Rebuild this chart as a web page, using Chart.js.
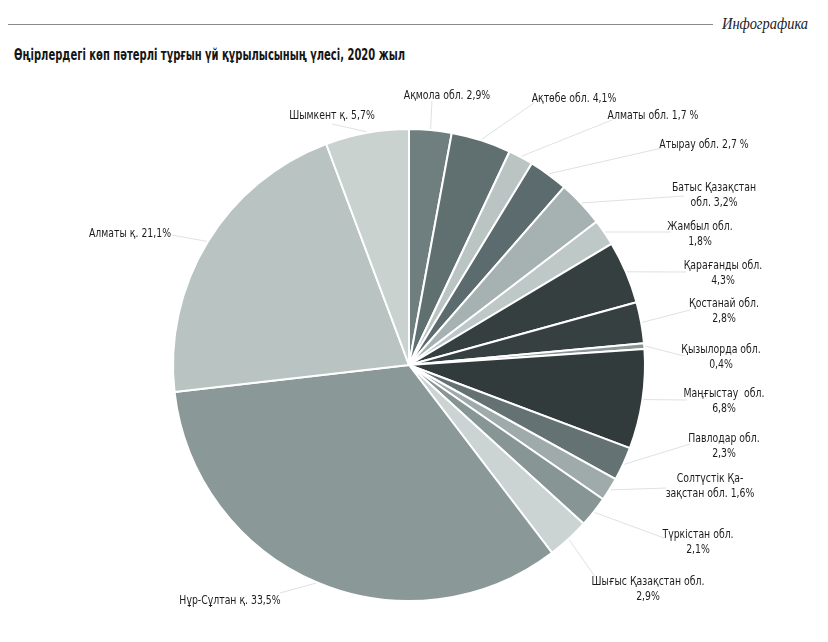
<!DOCTYPE html>
<html>
<head>
<meta charset="utf-8">
<script src="https://cdn.jsdelivr.net/npm/chart.js@4/dist/chart.umd.min.js"></script>
<style>
  html, body { margin:0; padding:0; background:#fff; }
  #wrap { position:relative; width:828px; height:642px; overflow:hidden; }
  #rule { position:absolute; left:8px; top:24px; width:705px; height:0; border-top:1px solid #8a8a8a; }
  #head { position:absolute; left:722px; top:15px; font-family:"Liberation Serif","DejaVu Serif Condensed",serif; font-style:italic; font-size:16px; color:#222; white-space:nowrap; transform-origin:0 0; }
  #title { position:absolute; left:14px; top:45px; font-family:"DejaVu Sans Condensed","Liberation Sans","Roboto",sans-serif; font-weight:bold; font-size:16.5px; color:#151515; white-space:nowrap; transform-origin:0 0; }
  canvas { position:absolute; left:0; top:0; }
</style>
</head>
<body>
<div id="wrap">
  <div id="rule"></div>
  <div id="head">Инфографика</div>
  <div id="title">Өңірлердегі көп пәтерлі тұрғын үй құрылысының үлесі, 2020 жыл</div>
  <canvas id="c" width="828" height="642"></canvas>
</div>
<script>
// ---- data ----
const categories = [
  "Ақмола обл.", "Ақтөбе обл.", "Алматы обл.", "Атырау обл.", "Батыс Қазақстан обл.",
  "Жамбыл обл.", "Қарағанды обл.", "Қостанай обл.", "Қызылорда обл.", "Маңғыстау обл.",
  "Павлодар обл.", "Солтүстік Қазақстан обл.", "Түркістан обл.", "Шығыс Қазақстан обл.",
  "Нұр-Сұлтан қ.", "Алматы қ.", "Шымкент қ."
];
const shares = [2.9, 4.1, 1.7, 2.7, 3.2, 1.8, 4.3, 2.8, 0.4, 6.8, 2.3, 1.6, 2.1, 2.9, 33.5, 21.1, 5.7];
// label text lines as printed in the source
const labelLines = [
  ["Ақмола обл. 2,9%"],
  ["Ақтөбе обл. 4,1%"],
  ["Алматы обл. 1,7 %"],
  ["Атырау обл. 2,7 %"],
  ["Батыс Қазақстан", "обл. 3,2%"],
  ["Жамбыл обл.", "1,8%"],
  ["Қарағанды обл.", "4,3%"],
  ["Қостанай обл.", "2,8%"],
  ["Қызылорда обл.", "0,4%"],
  ["Маңғыстау  обл.", "6,8%"],
  ["Павлодар обл.", "2,3%"],
  ["Солтүстік Қа-", "зақстан обл. 1,6%"],
  ["Түркістан обл.", "2,1%"],
  ["Шығыс Қазақстан обл.", "2,9%"],
  ["Нұр-Сұлтан қ. 33,5%"],
  ["Алматы қ. 21,1%"],
  ["Шымкент қ. 5,7%"]
];
const colors = [
  "#6f7f80", "#607071", "#b9c4c3", "#5c6b6d", "#a6b2b1",
  "#bec8c7", "#363f40", "#374041", "#8a9696", "#323b3c",
  "#647274", "#9fabaa", "#879595", "#cbd4d2",
  "#8a9897", "#b8c3c2", "#cad2d0"
];
// ---- layout (label centre x, first-line y, leader end x, leader end y) ----
const labelLayout = [
  [447, 96, 432, 101],
  [574, 99, 534, 103],
  [653, 116, 612, 120],
  [704, 145, 662, 148],
  [714, 188, 684, 196],
  [700, 227, 671, 232],
  [723, 266, 686, 272],
  [724, 304, 690, 310],
  [721, 350, 684, 356],
  [724, 394, 687, 400],
  [724, 439, 690, 444],
  [710, 479, 666, 488],
  [698, 535, 664, 538],
  [648, 582, 600, 584],
  [230, 601, 280, 593],
  [130, 234, 172, 235],
  [332, 116, 332, 124]
];

const FONT = '"DejaVu Sans Condensed","Liberation Sans","Roboto",sans-serif';
const SQUEEZE = 0.83;

const labelPlugin = {
  id: 'sliceLabels',
  afterDatasetsDraw(chart) {
    const ctx = chart.ctx;
    const meta = chart.getDatasetMeta(0);
    meta.data.forEach((arc, i) => {
      const p = arc.getProps(['x','y','startAngle','endAngle','outerRadius'], true);
      const mid = (p.startAngle + p.endAngle) / 2;
      const r = p.outerRadius + 1;
      const sx = p.x + Math.cos(mid) * r;
      const sy = p.y + Math.sin(mid) * r;
      const L = labelLayout[i];
      ctx.save();
      ctx.strokeStyle = '#dde2e2';
      ctx.lineWidth = 1;
      ctx.beginPath();
      ctx.moveTo(sx, sy);
      ctx.lineTo(L[2], L[3]);
      ctx.stroke();
      ctx.restore();
      labelLines[i].forEach((t, k) => {
        ctx.save();
        ctx.translate(L[0], L[1] + k * 14.5);
        ctx.scale(SQUEEZE, 1);
        ctx.fillStyle = '#1c1c1c';
        ctx.font = '12.5px ' + FONT;
        ctx.textAlign = 'center';
        ctx.textBaseline = 'middle';
        ctx.fillText(t, 0, 0);
        ctx.restore();
      });
    });
  }
};

new Chart(document.getElementById('c'), {
  type: 'pie',
  data: {
    labels: categories,
    datasets: [{
      data: shares,
      backgroundColor: colors,
      borderColor: '#ffffff',
      borderWidth: 2
    }]
  },
  options: {
    responsive: false,
    animation: false,
    layout: { padding: { left: 172, right: 182, top: 128, bottom: 40 } },
    plugins: { legend: { display: false }, tooltip: { enabled: false }, title: { display: false } }
  },
  plugins: [labelPlugin]
});

// fit heading text widths to the source
function fitWidth(id, target) {
  const el = document.getElementById(id);
  const w = el.getBoundingClientRect().width;
  if (w > 0) el.style.transform = 'scaleX(' + (target / w) + ')';
}
fitWidth('title', 391);
fitWidth('head', 86);
</script>
</body>
</html>
